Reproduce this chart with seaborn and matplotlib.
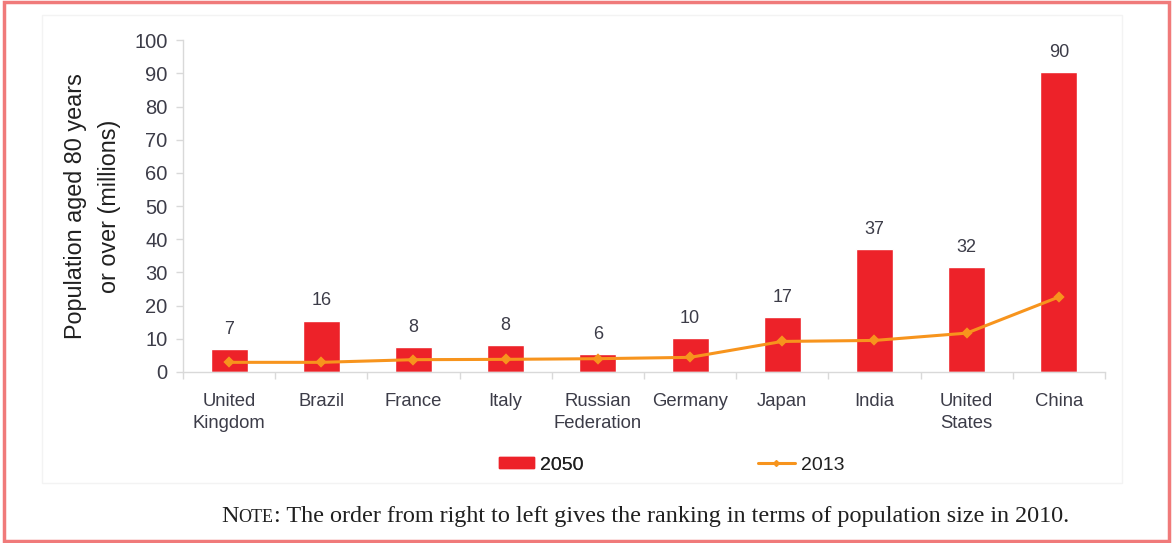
import matplotlib
matplotlib.use("Agg")
import matplotlib.pyplot as plt
from matplotlib.patches import Rectangle
from matplotlib.lines import Line2D
import seaborn as sns

# Data
countries = ["United\nKingdom", "Brazil", "France", "Italy", "Russian\nFederation",
             "Germany", "Japan", "India", "United\nStates", "China"]
pop_2050 = [6.8, 15.5, 7.5, 8.2, 5.4, 10.3, 16.5, 37.0, 31.6, 90.4]
labels_2050 = [7, 16, 8, 8, 6, 10, 17, 37, 32, 90]
pop_2013 = [2.9, 2.9, 3.7, 3.8, 4.0, 4.4, 9.2, 9.5, 11.7, 22.6]
y_ticks = [0, 10, 20, 30, 40, 50, 60, 70, 80, 90, 100]

bar_color = "#ed2229"
line_color = "#f7941d"
text_color = "#3c3c48"
axis_color = "#d9d9d9"

sns.set_style("white")
plt.rcParams["font.family"] = ["Liberation Sans", "DejaVu Sans"]

fig = plt.figure(figsize=(11.73, 5.43), dpi=100)
ax = fig.add_axes([0.156, 0.315, 0.786, 0.611])

sns.barplot(x=countries, y=pop_2050, color=bar_color, width=0.4, saturation=1,
            ax=ax, zorder=2)
sns.pointplot(x=countries, y=pop_2013, color=line_color, markers="D",
              markersize=4, linewidth=2.2, ax=ax, zorder=3)

for i, (v, lab) in enumerate(zip(pop_2050, labels_2050)):
    ax.annotate(str(lab), (i, v), xytext=(0, 8), textcoords="offset points",
                ha="center", va="bottom", fontsize=13, color=text_color)

ax.set_ylim(0, 100)
ax.set_xlim(-0.5, len(countries) - 0.5)
ax.set_yticks(y_ticks)
ax.tick_params(axis="y", labelsize=14.5, colors=text_color, length=5,
               width=1, color=axis_color, left=True, pad=6)
ax.tick_params(axis="x", labelsize=13.3, colors=text_color, length=0, pad=15)
ax.set_xticks([i - 0.5 for i in range(len(countries) + 1)], minor=True)
ax.tick_params(axis="x", which="minor", length=5, width=1, color=axis_color,
               bottom=True)
for lbl in ax.get_xticklabels():
    lbl.set_linespacing(1.4)

for side in ["top", "right"]:
    ax.spines[side].set_visible(False)
for side in ["left", "bottom"]:
    ax.spines[side].set_color(axis_color)
    ax.spines[side].set_linewidth(1)

ax.set_ylabel("Population aged 80 years\nor over (millions)", fontsize=16.8,
              color="#202020", labelpad=9.7, linespacing=1.6)

# legend, two entries placed separately like the reference
leg_kw = dict(loc="center left", frameon=False, fontsize=14, borderpad=0,
              borderaxespad=0, handletextpad=0.3, labelcolor="#202020")
leg1 = fig.legend([Rectangle((0, 0), 1, 1, color=bar_color)], ["2050"],
                  bbox_to_anchor=(499 / 1173, 1 - 465 / 543),
                  handlelength=1.8, handleheight=0.5, **leg_kw)
fig.add_artist(leg1)
fig.legend([Line2D([], [], color=line_color, lw=2.2, marker="D", markersize=3)],
           ["2013"], bbox_to_anchor=(758 / 1173, 1 - 465 / 543),
           handlelength=1.9, **leg_kw)

# faint chart frame and outer red border
fig.patches.append(Rectangle((42 / 1173, 1 - 483 / 543), (1122 - 42) / 1173,
                             (483 - 15) / 543, transform=fig.transFigure,
                             fill=False, edgecolor="#f3f3f3", lw=1))
fig.patches.append(Rectangle((0.003, 0.003), 0.994, 0.994, transform=fig.transFigure,
                             fill=False, edgecolor="#f07a7a", lw=2.5))

# note in small caps style
fig.canvas.draw()
renderer = fig.canvas.get_renderer()
serif = ["Liberation Serif", "DejaVu Serif"]
y_note = 1 - 522 / 543
t1 = fig.text(221 / 1173, y_note, "N", fontsize=17.4, family=serif,
              color="#202020", va="baseline")
x = t1.get_window_extent(renderer).x1 / fig.bbox.width
t2 = fig.text(x, y_note, "OTE", fontsize=13, family=serif, color="#202020",
              va="baseline")
x = t2.get_window_extent(renderer).x1 / fig.bbox.width
fig.text(x, y_note, ": The order from right to left gives the ranking in terms of "
         "population size in 2010.", fontsize=17.4, family=serif,
         color="#202020", va="baseline")

fig.savefig("out.png", dpi=100)
